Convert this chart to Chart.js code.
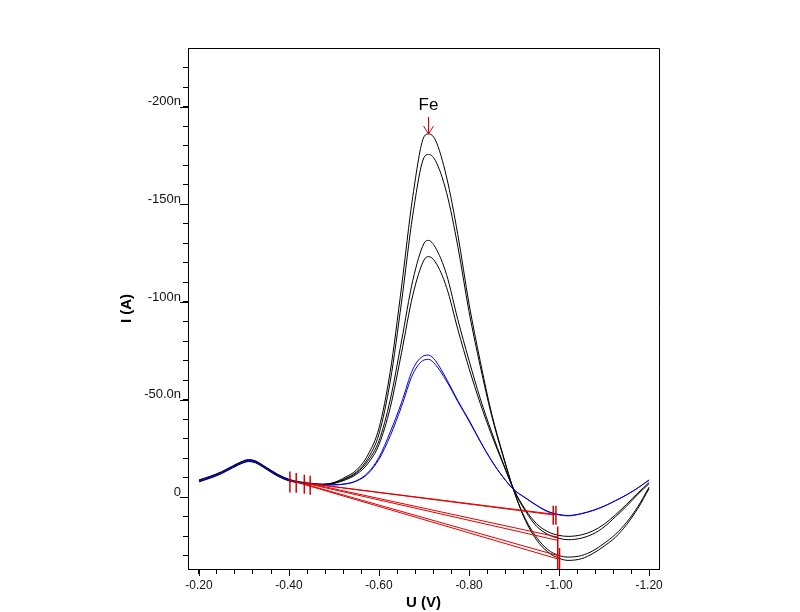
<!DOCTYPE html>
<html>
<head>
<meta charset="utf-8">
<title>Fe voltammogram</title>
<script src="https://cdn.jsdelivr.net/npm/chart.js@4.4.1/dist/chart.umd.min.js"></script>
<style>
  html, body { margin: 0; padding: 0; background: #fff; }
  #wrap { width: 800px; height: 612px; }
</style>
</head>
<body>
<div id="wrap"><canvas id="myChart" width="800" height="612"></canvas></div>
<script>
// potential (V), same grid for every scan
const potential = [-0.20, -0.225, -0.25, -0.275, -0.30, -0.31, -0.325, -0.35, -0.375, -0.40, -0.425, -0.45,
  -0.475, -0.50, -0.525, -0.55, -0.575, -0.60, -0.625, -0.65, -0.675, -0.70, -0.71, -0.725, -0.75, -0.775,
  -0.80, -0.825, -0.85, -0.875, -0.90, -0.925, -0.95, -0.975, -1.00, -1.02, -1.05, -1.075, -1.10, -1.125,
  -1.15, -1.175, -1.20];

// current (nA)
const scanA = [-8.9, -10.8, -13.1, -16.1, -18.8, -19.3, -18.7, -15.3, -11.8, -9.2, -7.9, -7.1,
  -6.7, -7.6, -10.3, -14.0, -21.6, -35.5, -64.5, -107.7, -154.0, -184.6, -186.0, -183.0, -164.0, -134.5,
  -99.0, -69.5, -43.0, -22.0, -3.0, 11.8, 21.8, 28.0, 31.2, 32.3, 31.4, 28.8, 25.0, 20.5, 14.0, 5.7, -4.5];
const scanB = [-8.6, -10.5, -12.8, -15.8, -18.6, -19.1, -18.5, -15.1, -11.6, -9.0, -7.7, -7.0,
  -6.6, -7.3, -9.6, -13.0, -19.8, -32.5, -59.5, -100.0, -144.5, -174.0, -175.5, -172.5, -156.0, -128.5,
  -95.0, -67.0, -42.0, -21.5, -3.0, 11.0, 20.5, 26.8, 29.8, 30.6, 29.8, 27.4, 23.6, 19.0, 12.8, 4.8, -5.2];
const scanC = [-8.2, -10.1, -12.4, -15.4, -18.0, -18.5, -17.9, -14.5, -11.0, -8.6, -7.5, -6.8,
  -6.6, -7.3, -9.4, -12.5, -18.5, -29.0, -50.0, -80.0, -111.0, -130.0, -131.5, -128.0, -114.0, -91.0,
  -70.0, -50.5, -33.5, -18.0, -3.5, 7.0, 14.8, 19.0, 21.0, 21.7, 20.9, 18.8, 15.2, 10.0, 4.5, -1.5, -7.0];
const scanD = [-7.9, -9.8, -12.1, -15.1, -17.8, -18.3, -17.7, -14.3, -10.8, -8.4, -7.3, -6.7,
  -6.5, -7.1, -8.9, -11.8, -17.2, -27.0, -46.0, -74.0, -103.5, -121.5, -123.2, -120.5, -107.5, -86.0,
  -66.0, -48.0, -32.0, -17.5, -3.8, 6.2, 13.5, 17.6, 19.5, 20.0, 19.2, 17.2, 13.8, 9.0, 3.6, -2.2, -7.6];
const scanE = [-8.4, -10.3, -12.6, -15.6, -18.3, -18.8, -18.2, -14.8, -11.3, -8.8, -7.6, -6.9,
  -6.4, -6.4, -6.9, -8.5, -12.5, -20.5, -33.5, -48.5, -65.5, -72.5, -72.8, -70.0, -60.5, -49.5,
  -39.5, -28.7, -18.8, -10.5, -3.8, 0.3, 4.2, 7.4, 9.0, 9.5, 8.4, 6.8, 4.6, 1.8, -1.2, -4.8, -8.9];
const scanF = [-8.2, -10.1, -12.5, -15.4, -18.1, -18.6, -18.0, -14.6, -11.1, -8.7, -7.5, -6.8,
  -6.4, -6.4, -6.8, -8.3, -12.0, -19.5, -31.5, -46.5, -63.0, -70.3, -70.6, -68.0, -59.5, -49.0,
  -39.0, -28.5, -18.7, -10.5, -3.8, 0.2, 4.0, 7.2, 8.8, 9.3, 8.3, 6.7, 4.5, 1.7, -1.3, -4.8, -8.8];

// peak baselines (one per scan, same order A..F)
const baseLeftX = [-0.402, -0.416, -0.434, -0.447, -0.434, -0.447];
const baseLeftY = [-8.7, -8.0, -7.3, -7.0, -7.3, -7.0];
const baseRightX = [-0.998, -0.998, -0.998, -0.998, -0.987, -0.993];
const baseRightY = [31.6, 29.9, 22.1, 20.4, 9.0, 8.8];

// baseline limit markers
const markX = [-0.402, -0.416, -0.434, -0.447, -0.987, -0.993, -0.997, -1.001];
const markTop = [-13.2, -12.5, -11.5, -11.0, 4.3, 4.3, 15.0, 26.0];
const markBottom = [-2.5, -2.3, -1.8, -1.3, 14.0, 14.0, 36.7, 36.7];

// peak label
const peakLabel = 'Fe';
const peakX = -0.71;
const peakArrow = [-194.5, -186.0];
const peakLabelY = -200.5;

// axes
const xTickValues = [-0.20, -0.40, -0.60, -0.80, -1.00, -1.20];
const xTickLabels = ['-0.20', '-0.40', '-0.60', '-0.80', '-1.00', '-1.20'];
const xMinorStep = 0.04;
const yTickValues = [-200, -150, -100, -50, 0];
const yTickLabels = ['-200n', '-150n', '-100n', '-50.0n', '0'];
const yMinorStep = 10;

const xMin = -1.222, xMax = -0.1756;
const yMin = -230, yMax = 36.7;

const FONT = '"Liberation Sans", Arial, Helvetica, sans-serif';

function minorTicks(from, to, step) {
  const out = [];
  const n = Math.round((to - from) / step);
  for (let i = 0; i <= n; i++) out.push(Math.round((from + i * step) * 1000) / 1000);
  return out;
}
const xAllTicks = minorTicks(-1.20, -0.20, xMinorStep);
const yAllTicks = minorTicks(-220, 30, yMinorStep);

function labelFor(v, vals, labels) {
  for (let i = 0; i < vals.length; i++) {
    if (Math.abs(v - vals[i]) < 1e-6) return labels[i];
  }
  return '';
}

function pts(ys) {
  return potential.map((x, i) => ({ x: x, y: ys[i] }));
}

const scans = [
  { data: scanA, color: '#000000', order: 3 },
  { data: scanB, color: '#000000', order: 3 },
  { data: scanC, color: '#000000', order: 3 },
  { data: scanD, color: '#000000', order: 3 },
  { data: scanE, color: '#0000d8', order: 2 },
  { data: scanF, color: '#0000d8', order: 2 }
];

const datasets = [];
scans.forEach(s => {
  datasets.push({
    data: pts(s.data),
    borderColor: s.color,
    borderWidth: 1,
    pointRadius: 0,
    fill: false,
    cubicInterpolationMode: 'monotone',
    order: s.order
  });
});

for (let i = 0; i < baseLeftX.length; i++) {
  datasets.push({
    data: [{ x: baseLeftX[i], y: baseLeftY[i] }, { x: baseRightX[i], y: baseRightY[i] }],
    borderColor: '#e00000',
    borderWidth: 1,
    pointRadius: 0,
    tension: 0,
    order: 1
  });
}

for (let i = 0; i < markX.length; i++) {
  datasets.push({
    data: [{ x: markX[i], y: markTop[i] }, { x: markX[i], y: markBottom[i] }],
    borderColor: '#d00000',
    borderWidth: 1.5,
    pointRadius: 0,
    tension: 0,
    order: 0
  });
}

// arrow to the Fe peak
datasets.push({
  data: [{ x: peakX, y: peakArrow[0] }, { x: peakX, y: peakArrow[1] }],
  borderColor: '#d00000', borderWidth: 1, pointRadius: 0, tension: 0, order: 0
});
datasets.push({
  data: [{ x: peakX + 0.011, y: peakArrow[1] - 4 }, { x: peakX, y: peakArrow[1] }, { x: peakX - 0.011, y: peakArrow[1] - 4 }],
  borderColor: '#d00000', borderWidth: 1, pointRadius: 0, tension: 0, order: 0
});

const frame = {
  id: 'frame',
  afterDraw(chart) {
    const ctx = chart.ctx;
    const a = chart.chartArea;
    const xs = chart.scales.x, ys = chart.scales.y;
    const top = Math.round(a.top) + 0.5, right = Math.round(a.right) + 0.5;
    ctx.save();
    ctx.strokeStyle = '#000';
    ctx.lineWidth = 1;
    ctx.beginPath();
    ctx.moveTo(a.left, top);
    ctx.lineTo(right, top);
    ctx.lineTo(right, a.bottom);
    // longer marks at the labelled ticks
    yTickValues.forEach(v => {
      const p = Math.round(ys.getPixelForValue(v)) + 0.5;
      ctx.moveTo(a.left - 8, p);
      ctx.lineTo(a.left, p);
    });
    xTickValues.forEach(v => {
      const p = Math.round(xs.getPixelForValue(v)) + 0.5;
      ctx.moveTo(p, a.bottom);
      ctx.lineTo(p, a.bottom + 7);
    });
    ctx.stroke();

    ctx.fillStyle = '#000';
    ctx.font = '17px ' + FONT;
    ctx.textAlign = 'center';
    ctx.textBaseline = 'middle';
    ctx.fillText(peakLabel, xs.getPixelForValue(peakX), ys.getPixelForValue(peakLabelY));
    ctx.restore();
  }
};

const ctx = document.getElementById('myChart').getContext('2d');
new Chart(ctx, {
  type: 'line',
  data: { datasets: datasets },
  plugins: [frame],
  options: {
    responsive: false,
    animation: false,
    devicePixelRatio: 1,
    layout: { padding: { left: 114, right: 141, top: 48, bottom: 0 } },
    plugins: {
      legend: { display: false },
      tooltip: { enabled: false }
    },
    scales: {
      x: {
        type: 'linear',
        reverse: true,
        min: xMin,
        max: xMax,
        afterBuildTicks: s => { s.ticks = xAllTicks.map(v => ({ value: v })); },
        afterFit: s => { s.height = 43; },
        grid: { drawOnChartArea: false, drawTicks: true, tickLength: 5, tickColor: '#000' },
        border: { display: true, color: '#000', width: 1 },
        ticks: {
          autoSkip: false, maxRotation: 0, padding: 4, color: '#111',
          font: { family: FONT, size: 12 },
          callback: v => labelFor(v, xTickValues, xTickLabels)
        },
        title: {
          display: true, text: 'U (V)', color: '#000', padding: 0,
          font: { family: FONT, size: 15, weight: 'bold' }
        }
      },
      y: {
        type: 'linear',
        reverse: true,
        min: yMin,
        max: yMax,
        afterBuildTicks: s => { s.ticks = yAllTicks.map(v => ({ value: v })); },
        afterFit: s => { s.width = 74; },
        grid: { drawOnChartArea: false, drawTicks: true, tickLength: 5, tickColor: '#000' },
        border: { display: true, color: '#000', width: 1 },
        ticks: {
          autoSkip: false, padding: 2, labelOffset: -5, color: '#111',
          font: { family: FONT, size: 13 },
          callback: v => labelFor(v, yTickValues, yTickLabels)
        },
        title: {
          display: true, text: 'I (A)', color: '#000', padding: { top: 4, bottom: 0 },
          font: { family: FONT, size: 15, weight: 'bold' }
        }
      }
    }
  }
});
</script>
</body>
</html>
